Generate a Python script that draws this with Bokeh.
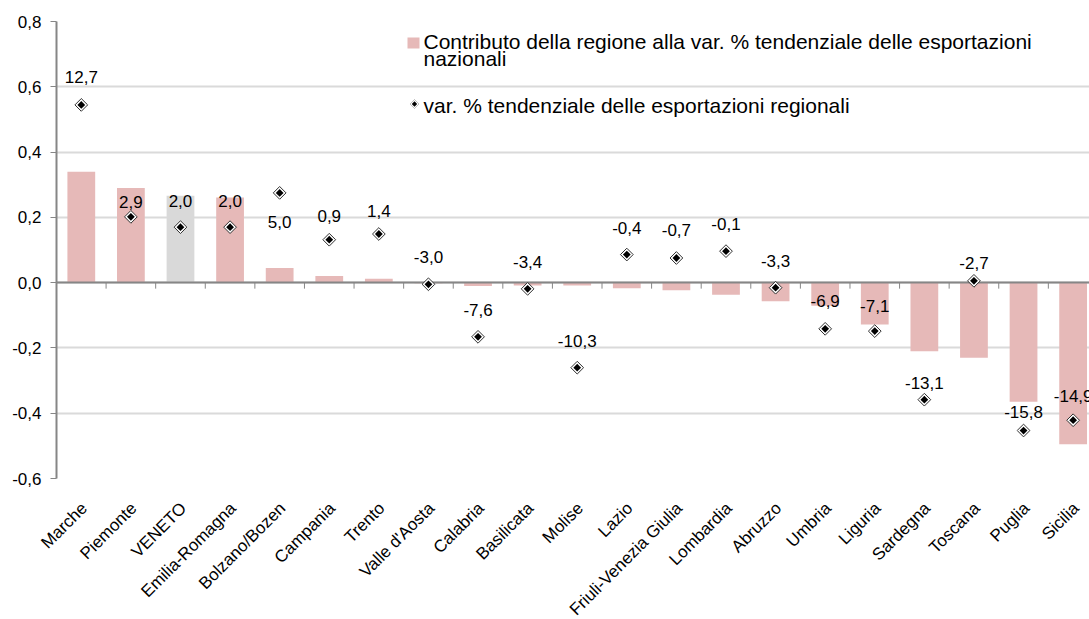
import math
from bokeh.plotting import figure
from bokeh.layouts import column
from bokeh.models import (Range1d, FixedTicker, CustomJSTickFormatter, ColumnDataSource,
                          Label, BoxAnnotation, PolyAnnotation, Plot)
from bokeh.core.properties import value
from bokeh.embed import file_html
from bokeh.resources import INLINE

# ---------------- data ----------------
regions = ["Marche", "Piemonte", "VENETO", "Emilia-Romagna", "Bolzano/Bozen", "Campania", "Trento",
           "Valle d'Aosta", "Calabria", "Basilicata", "Molise", "Lazio", "Friuli-Venezia Giulia",
           "Lombardia", "Abruzzo", "Umbria", "Liguria", "Sardegna", "Toscana", "Puglia", "Sicilia"]
contributo = [0.340, 0.290, 0.266, 0.261, 0.045, 0.020, 0.012, -0.002, -0.010, -0.009, -0.009,
              -0.017, -0.023, -0.037, -0.057, -0.071, -0.128, -0.210, -0.230, -0.365, -0.495]
var_regionale = [12.7, 2.9, 2.0, 2.0, 5.0, 0.9, 1.4, -3.0, -7.6, -3.4, -10.3, -0.4, -0.7, -0.1,
                 -3.3, -6.9, -7.1, -13.1, -2.7, -15.8, -14.9]
y_ticks = [-0.6, -0.4, -0.2, 0.0, 0.2, 0.4, 0.6, 0.8]
legend_bar = "Contributo della regione alla var. % tendenziale delle esportazioni"
legend_bar_2 = "nazionali"
legend_pt = "var. % tendenziale  delle esportazioni  regionali"

# ---------------- layout / style ----------------
label_dy = [-28, -15, -26, -26, 29, -24, -23, -27, -27, -27, -27, -27, -28, -27, -27, -28,
            -25, -17, -18, -19, -24]
PINK = "#E6B9B8"
GREY = "#D9D9D9"
AXIS = "#868686"
FONT = "Liberation Sans"
Y0, Y1 = -0.6, 0.8
X_END = 20.83
W = 1089
LEFT = 56                 # plot-area left edge in px
H_TOP, H_BOT = 490, 129   # main figure / category-label strip
HAS_FA = "frame_align" in Plot.properties()

n = len(regions)
centers = [i + 0.5 for i in range(n)]
bounds = list(range(n + 1))
bar_colors = [GREY if r == "VENETO" else PINK for r in regions]
labels = [f"{v:.1f}".replace(".", ",") for v in var_regionale]

p = figure(width=W, height=H_TOP, x_range=Range1d(0, X_END), y_range=Range1d(Y0, Y1),
           output_backend="svg", toolbar_location=None, x_axis_type=None,
           min_border_left=LEFT, min_border_right=0, min_border_top=21, min_border_bottom=12)
p.extra_y_ranges = {"sec": Range1d(-20, 20)}
p.outline_line_color = None
p.background_fill_color = "white"

# y axis
ya = p.yaxis[0]
ya.ticker = FixedTicker(ticks=y_ticks)
ya.formatter = CustomJSTickFormatter(code="return tick.toFixed(1).replace('.', ',');")
ya.axis_line_color = AXIS
ya.axis_line_width = 2
ya.major_tick_line_color = AXIS
ya.major_tick_out = 6
ya.major_tick_in = 0
ya.minor_tick_line_color = None
ya.major_label_text_font = FONT
ya.major_label_text_font_size = "17px"
ya.major_label_text_color = "black"
ya.major_label_standoff = 9

p.ygrid.ticker = FixedTicker(ticks=y_ticks)
p.ygrid.grid_line_color = "#DADADA"
p.ygrid.grid_line_width = 2

# bars
bar_src = ColumnDataSource(dict(x=centers, top=contributo, color=bar_colors))
p.vbar(x="x", top="top", bottom=0, width=0.56, source=bar_src,
       fill_color="color", line_color=None)

# zero axis line with tick marks
p.hspan(y=[0], line_color=AXIS, line_width=2)
tick_len = 6 * (Y1 - Y0) / 457
p.segment(x0=bounds, x1=bounds, y0=[0] * len(bounds), y1=[-tick_len] * len(bounds),
          line_color=AXIS, line_width=1)

# diamonds (secondary hidden axis -20..20)
pt_src = ColumnDataSource(dict(x=centers, y=var_regionale, lab=labels, dy=label_dy))
p.scatter(x="x", y="y", source=pt_src, y_range_name="sec", marker="square",
          angle=math.pi / 4, size=9, fill_color="white", line_color="#303030", line_width=1)
p.scatter(x="x", y="y", source=pt_src, y_range_name="sec", marker="square",
          angle=math.pi / 4, size=5.5, fill_color="black", line_color=None)
p.text(x="x", y="y", text="lab", source=pt_src, y_range_name="sec", y_offset="dy",
       text_align="center", text_baseline="middle", text_font=value(FONT),
       text_font_size="17px", text_color="black")

# legend (drawn manually, screen units relative to plot frame)
p.add_layout(BoxAnnotation(left=351, right=363, top=441, bottom=430,
                           left_units="screen", right_units="screen",
                           top_units="screen", bottom_units="screen",
                           fill_color=PINK, fill_alpha=1, line_color=None))
cx, cy = 358, 374.5
p.add_layout(PolyAnnotation(xs=[cx - 4.5, cx, cx + 4.5, cx], ys=[cy, cy + 4.5, cy, cy - 4.5],
                            xs_units="screen", ys_units="screen",
                            fill_color="white", fill_alpha=1, line_color="#303030", line_width=1))
p.add_layout(PolyAnnotation(xs=[cx - 2.7, cx, cx + 2.7, cx], ys=[cy, cy + 2.7, cy, cy - 2.7],
                            xs_units="screen", ys_units="screen",
                            fill_color="black", fill_alpha=1, line_color=None))
for txt, ty in [(legend_bar, 437.5), (legend_bar_2, 420.5), (legend_pt, 373)]:
    p.add_layout(Label(x=367, y=ty, x_units="screen", y_units="screen", text=txt,
                       text_font=FONT, text_font_size="21px", text_color="black",
                       text_baseline="alphabetic", text_align="left"))

# category labels strip below (same horizontal scale as the plot area)
k = (W - LEFT) / X_END
p2 = figure(width=W, height=H_BOT,
            x_range=Range1d(-LEFT / k if HAS_FA else 0, X_END), y_range=Range1d(0, 1),
            output_backend="svg", toolbar_location=None, x_axis_type=None, y_axis_type=None,
            min_border_left=0 if HAS_FA else LEFT, min_border_right=0,
            min_border_top=0, min_border_bottom=0)
if HAS_FA:
    p.frame_align = False
    p2.frame_align = False
p2.outline_line_color = None
p2.grid.visible = False
cat_src = ColumnDataSource(dict(x=centers, y=[1] * n, name=regions))
p2.text(x="x", y="y", text="name", source=cat_src, angle=math.pi / 4,
        x_offset=3, y_offset=15, text_align="right", text_baseline="middle",
        text_font=value(FONT), text_font_size="17px", text_color="black")

layout = column(p, p2, spacing=0)
open("out.html", "w").write(file_html(layout, INLINE))
